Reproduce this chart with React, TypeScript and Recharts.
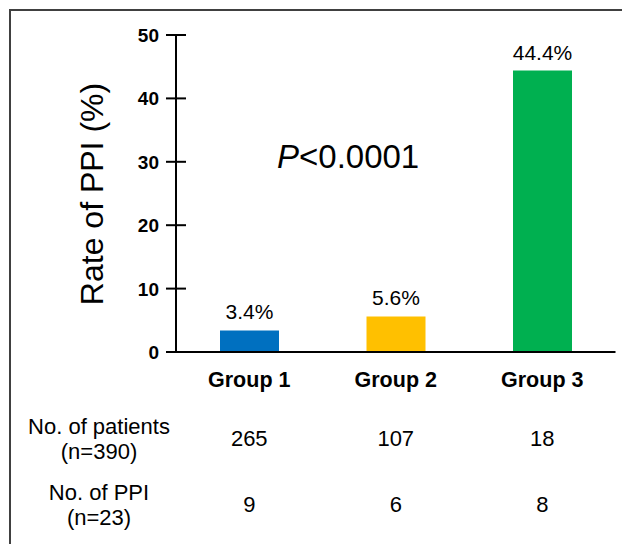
import React from 'react';
import { BarChart, Bar, XAxis, YAxis, Cell, LabelList } from 'recharts';

const groups = ['Group 1', 'Group 2', 'Group 3'];
const rates = [3.4, 5.6, 44.4];
const patients = [265, 107, 18];
const ppiCounts = [9, 6, 8];
const barColors = ['#0070C0', '#FFC000', '#00B050'];
const yTicks = [0, 10, 20, 30, 40, 50];
const rowLabels = [
  ['No. of patients', '(n=390)'],
  ['No. of PPI', '(n=23)'],
];
const yTitle = 'Rate of PPI (%)';
const pValue = '<0.0001';

const data = groups.map((g, i) => ({
  group: g,
  rate: rates[i],
  patients: patients[i],
  ppi: ppiCounts[i],
}));

const FONT = '"Liberation Sans", Arial, sans-serif';

const YTick = (props: any) => {
  const { x, y, payload } = props;
  return (
    <g>
      <line x1={x - 10} x2={x + 10} y1={y} y2={y} stroke="#000" strokeWidth={2} />
      <text x={x - 17} y={y} dy={7} textAnchor="end" fontWeight="bold" fontSize={19} fontFamily={FONT} fill="#000">
        {payload.value}
      </text>
    </g>
  );
};

const XTick = (props: any) => {
  const { x, y, payload, index } = props;
  const d = data[index];
  return (
    <g fontFamily={FONT} fill="#000">
      <text x={x} y={y + 35} textAnchor="middle" fontWeight="bold" fontSize={21.5}>
        {payload.value}
      </text>
      <text x={x} y={y + 94} textAnchor="middle" fontSize={22}>
        {d ? d.patients : ''}
      </text>
      <text x={x} y={y + 160} textAnchor="middle" fontSize={22}>
        {d ? d.ppi : ''}
      </text>
    </g>
  );
};

export default function App() {
  return (
    <div style={{ position: 'absolute', left: 0, top: 0, width: 622, height: 544, overflow: 'hidden', background: '#fff' }}>
      <BarChart
        width={622}
        height={544}
        data={data}
        margin={{ top: 35, right: 6.5, bottom: 0, left: 0 }}
        barCategoryGap={0}
      >
        <YAxis
          type="number"
          domain={[0, 50]}
          ticks={yTicks}
          interval={0}
          width={176}
          tickSize={0}
          tickMargin={0}
          tickLine={false}
          axisLine={{ stroke: '#000', strokeWidth: 2 }}
          tick={<YTick />}
        />
        <XAxis
          dataKey="group"
          type="category"
          height={192}
          interval={0}
          tickSize={0}
          tickMargin={0}
          tickLine={false}
          axisLine={{ stroke: '#000', strokeWidth: 2 }}
          tick={<XTick />}
        />
        <Bar dataKey="rate" barSize={59} isAnimationActive={false}>
          {data.map((d, i) => (
            <Cell key={d.group} fill={barColors[i]} />
          ))}
          <LabelList
            dataKey="rate"
            position="top"
            offset={11}
            formatter={(v: any) => `${v}%`}
            style={{ fontSize: 21, fontFamily: FONT, fill: '#000' }}
          />
        </Bar>
      </BarChart>
      <svg width={622} height={544} style={{ position: 'absolute', left: 0, top: 0, pointerEvents: 'none' }}>
        <rect x={10} y={10} width={700} height={700} fill="none" stroke="#404040" strokeWidth={2} />
        <text
          transform="translate(103, 194) rotate(-90)"
          textAnchor="middle"
          fontSize={32}
          fontFamily={FONT}
          fill="#000"
        >
          {yTitle}
        </text>
        <text x={277} y={168} fontSize={33} fontFamily={FONT} fill="#000">
          <tspan fontStyle="italic">P</tspan>
          <tspan>{pValue}</tspan>
        </text>
        <g fontFamily={FONT} fontSize={22} fill="#000" textAnchor="middle">
          <text x={99} y={434}>{rowLabels[0][0]}</text>
          <text x={99} y={459}>{rowLabels[0][1]}</text>
          <text x={99} y={500}>{rowLabels[1][0]}</text>
          <text x={99} y={525}>{rowLabels[1][1]}</text>
        </g>
      </svg>
    </div>
  );
}
